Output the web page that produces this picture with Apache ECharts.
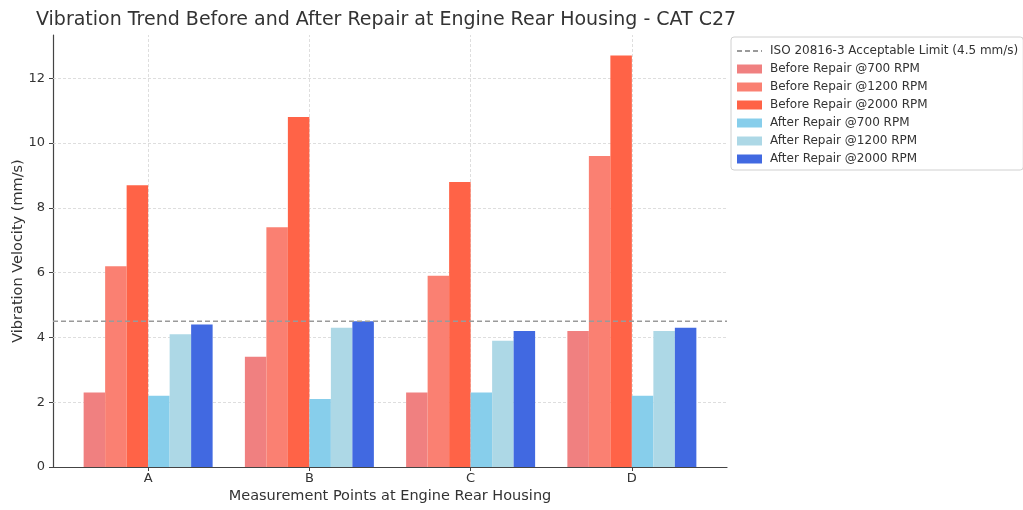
<!DOCTYPE html>
<html>
<head>
<meta charset="utf-8">
<script src="https://cdn.jsdelivr.net/npm/echarts@6/dist/echarts.min.js"></script>
<style>
  html, body { margin: 0; padding: 0; background: #fff; }
  #chart { width: 1023px; height: 510px; }
</style>
</head>
<body>
<div id="chart"></div>
<script>
// measurement points and readings (mm/s)
var categories = ['A', 'B', 'C', 'D'];
var before700 = [2.3, 3.4, 2.3, 4.2];
var before1200 = [6.2, 7.4, 5.9, 9.6];
var before2000 = [8.7, 10.8, 8.8, 12.7];
var after700 = [2.2, 2.1, 2.3, 2.2];
var after1200 = [4.1, 4.3, 3.9, 4.2];
var after2000 = [4.4, 4.5, 4.2, 4.3];
var isoLimit = 4.5;
var yTicks = [0, 2, 4, 6, 8, 10, 12];

var xMin = -0.59, xMax = 3.59;
var font = 'DejaVu Sans';

function pts(arr) {
  var out = [];
  for (var i = 0; i < arr.length; i++) out.push([i, arr[i]]);
  return out;
}

function bar(name, arr, color) {
  return {
    name: name,
    type: 'bar',
    data: pts(arr),
    barGap: '0%',
    barCategoryGap: '20%',
    itemStyle: { color: color },
    silent: true
  };
}

var gridLines = [];
yTicks.forEach(function (v) { if (v > 0) gridLines.push({ yAxis: v }); });
categories.forEach(function (c, i) { gridLines.push({ xAxis: i }); });

var chart = echarts.init(document.getElementById('chart'));
chart.setOption({
  animation: false,
  textStyle: { fontFamily: font },
  title: {
    text: 'Vibration Trend Before and After Repair at Engine Rear Housing - CAT C27',
    left: 31,
    top: 6,
    textStyle: { fontFamily: font, fontSize: 19, fontWeight: 'normal', color: '#333' }
  },
  legend: {
    orient: 'vertical',
    left: 731,
    top: 37,
    padding: [8, 5, 5, 5],
    itemWidth: 25,
    itemHeight: 9,
    itemGap: 6,
    borderColor: '#d0d0d0',
    borderWidth: 1,
    borderRadius: 3,
    textStyle: { fontFamily: font, fontSize: 12, color: '#333', padding: [0, 0, 0, 3] },
    data: [
      { name: 'ISO 20816-3 Acceptable Limit (4.5 mm/s)', itemStyle: { opacity: 0 } },
      { name: 'Before Repair @700 RPM', icon: 'rect' },
      { name: 'Before Repair @1200 RPM', icon: 'rect' },
      { name: 'Before Repair @2000 RPM', icon: 'rect' },
      { name: 'After Repair @700 RPM', icon: 'rect' },
      { name: 'After Repair @1200 RPM', icon: 'rect' },
      { name: 'After Repair @2000 RPM', icon: 'rect' }
    ]
  },
  grid: { left: 53, right: 296, top: 35, bottom: 43, containLabel: false, outerBoundsMode: 'none' },
  xAxis: {
    type: 'value',
    min: xMin,
    max: xMax,
    name: 'Measurement Points at Engine Rear Housing',
    nameLocation: 'middle',
    nameGap: 22,
    nameMoveOverlap: false,
    nameTextStyle: { fontFamily: font, fontSize: 14.5, color: '#333' },
    axisLine: { onZero: false, lineStyle: { color: '#444', width: 1.2 } },
    axisTick: { show: true, customValues: [0, 1, 2, 3], length: 4, lineStyle: { color: '#444' } },
    axisLabel: {
      customValues: [0, 1, 2, 3],
      formatter: function (v) { return categories[Math.round(v)]; },
      fontFamily: font, fontSize: 13, color: '#333', margin: 5
    },
    splitLine: { show: false }
  },
  yAxis: {
    type: 'value',
    min: 0,
    max: 13.335,
    name: 'Vibration Velocity (mm/s)',
    nameLocation: 'middle',
    nameGap: 27,
    nameMoveOverlap: false,
    nameTextStyle: { fontFamily: font, fontSize: 14.5, color: '#333' },
    axisLine: { show: true, onZero: false, lineStyle: { color: '#444', width: 1.2 } },
    axisTick: { show: true, customValues: yTicks, length: 4, lineStyle: { color: '#444' } },
    axisLabel: { customValues: yTicks, fontFamily: font, fontSize: 13, color: '#333', margin: 8 },
    splitLine: { show: false }
  },
  series: [
    {
      name: 'ISO 20816-3 Acceptable Limit (4.5 mm/s)',
      type: 'line',
      data: [[xMin, isoLimit], [xMax, isoLimit]],
      symbol: 'none',
      z: 4,
      silent: true,
      lineStyle: { color: '#9a9a9a', width: 1.4, type: [5, 3] },
      itemStyle: { color: '#9a9a9a' },
      markLine: {
        silent: true,
        z: 1,
        symbol: 'none',
        label: { show: false },
        lineStyle: { color: '#d6d6d6', width: 0.8, type: [3, 2] },
        data: gridLines
      }
    },
    bar('Before Repair @700 RPM', before700, '#F08080'),
    bar('Before Repair @1200 RPM', before1200, '#FA8072'),
    bar('Before Repair @2000 RPM', before2000, '#FF6347'),
    bar('After Repair @700 RPM', after700, '#87CEEB'),
    bar('After Repair @1200 RPM', after1200, '#ADD8E6'),
    bar('After Repair @2000 RPM', after2000, '#4169E1')
  ]
});
</script>
</body>
</html>
